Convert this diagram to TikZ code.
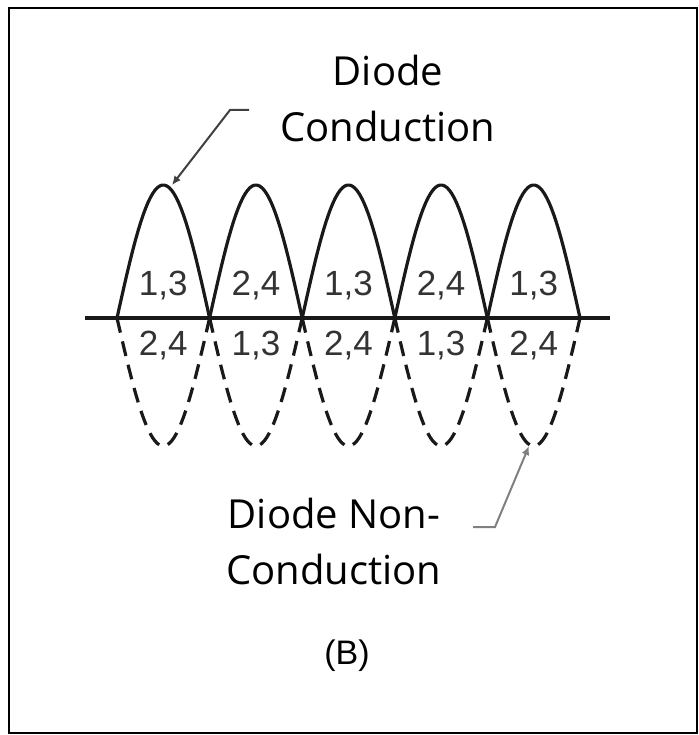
\documentclass[tikz,border=0pt]{standalone}
\usepackage{fontspec}
\setmainfont{Open Sans}
\newfontfamily\digitfont{Liberation Sans}
\usetikzlibrary{arrows.meta, positioning}

\begin{document}
\begin{tikzpicture}[x=1pt, y=-1pt,
  lbl/.style={font=\fontsize{40}{56}\selectfont, align=center, inner sep=0pt},
  num/.style={font=\digitfont\fontsize{35}{40}\selectfont, text=black!80, inner sep=0pt},
  wave/.style={line width=3.2pt, black!90},
  lead/.style={line width=2pt, -{Latex[length=9pt, width=8pt]}}]
\useasboundingbox (0,0) rectangle (698,735);
\draw[line width=2pt] (9,8) rectangle (697,733);
\draw[wave] (85,318) -- (610,318);
\foreach \i/\up/\dn in {0/{1,3}/{2,4}, 1/{2,4}/{1,3}, 2/{1,3}/{2,4}, 3/{2,4}/{1,3}, 4/{1,3}/{2,4}} {
  \pgfmathsetmacro{\xa}{117+92.6*\i}
  \draw[wave] plot[domain=0:180, samples=40] ({\xa+\x/180*92.6}, {318-133*sin(\x)});
  \draw[wave, dash pattern=on 15pt off 9pt] plot[domain=0:180, samples=40] ({\xa+\x/180*92.6}, {318+128*sin(\x)});
  \node[num] (U\i) at (\xa+46.3, 286) {\up};
  \node[num] (L\i) at (\xa+46.3, 346) {\dn};
}
\node[lbl] (C) at (388, 99) {Diode\\Conduction};
\node[lbl] (N) at (334, 541) {Diode Non-\\Conduction};
\node[font=\digitfont\fontsize{34}{40}\selectfont, inner sep=0pt] (B) at (347, 656) {(B)};
\coordinate (ct) at (249,110);
\coordinate (ck) at (230,110);
\coordinate (cp) at (172,185);
\coordinate (nt) at (473,527);
\coordinate (nk) at (495,527);
\coordinate (np) at (529,446);
\draw[lead, black!75] (ct) -- (ck) -- (cp);
\draw[lead, black!50] (nt) -- (nk) -- (np);
\end{tikzpicture}
\end{document}
